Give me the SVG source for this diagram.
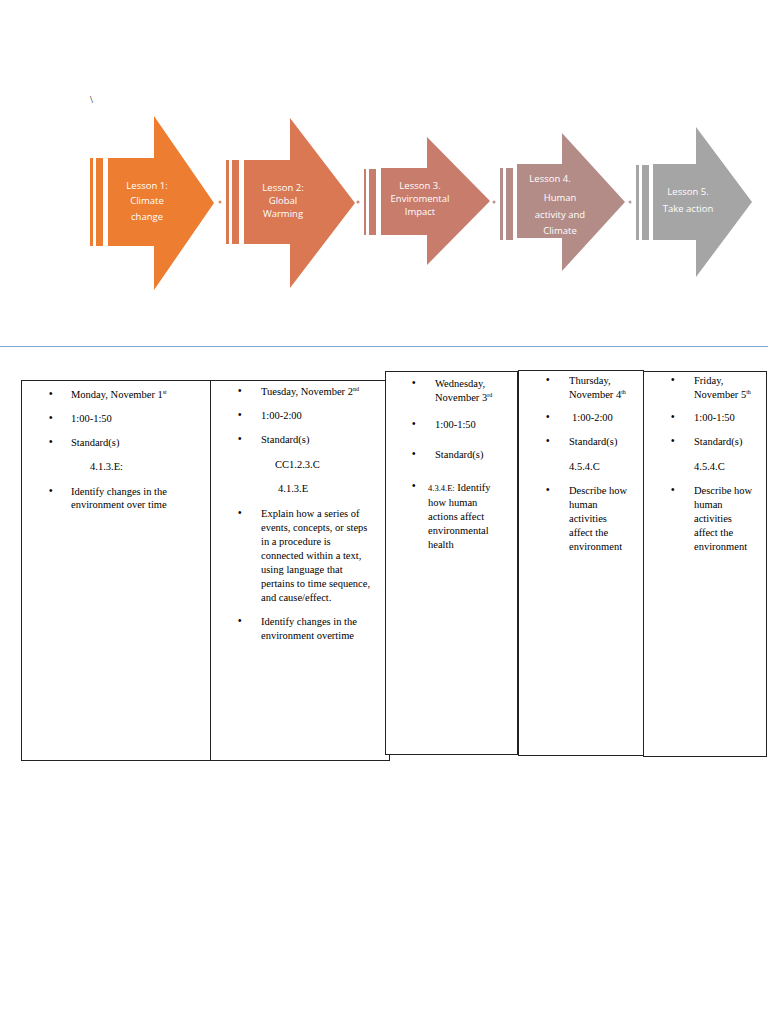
<svg xmlns="http://www.w3.org/2000/svg" width="768" height="1024" viewBox="0 0 768 1024">
<style>
.lt{font-family:"Open Sans","Liberation Sans",sans-serif;font-size:9.5px;fill:#fff;text-anchor:middle}
.t{font-family:"Liberation Serif",serif;font-size:10.5px;fill:#000}
.b{font-family:"Liberation Sans",sans-serif;font-size:10px;fill:#000}
.box{fill:#fff;stroke:#222;stroke-width:1}
sup{font-size:6px}
</style>
<rect width="768" height="1024" fill="#fff"/>
<text x="90" y="103" class="t" font-size="14">\</text>
<g id="connectors" fill="#bbb">
<circle cx="220" cy="202" r="1.5" fill="#E09060"/>
<circle cx="358" cy="202" r="1.5" fill="#D08870"/>
<circle cx="494" cy="202" r="1.5" fill="#C09090"/>
<circle cx="630" cy="202" r="1.5" fill="#B0A0A0"/>
</g>
<g id="lesson1" fill="#ED7D31">
<rect x="90" y="158" width="3" height="88"/><rect x="96" y="158" width="7" height="88"/>
<polygon points="108,158 154,158 154,116 214,203 154,290 154,246 108,246"/>
<text class="lt" x="147" y="189">Lesson 1:</text><text class="lt" x="147" y="204">Climate</text><text class="lt" x="147" y="220">change</text>
</g>
<g id="lesson2" fill="#D97852">
<rect x="226" y="160" width="3" height="84"/><rect x="232" y="160" width="7" height="84"/>
<polygon points="244,160 290,160 290,118 355,203 290,288 290,244 244,244"/>
<text class="lt" x="283" y="191">Lesson 2:</text><text class="lt" x="283" y="204">Global</text><text class="lt" x="283" y="217">Warming</text>
</g>
<g id="lesson3" fill="#C87C6C">
<rect x="364" y="169" width="2" height="66"/><rect x="369" y="169" width="7" height="66"/>
<polygon points="381,168 427,168 427,137 490,201 427,265 427,235 381,235"/>
<text class="lt" x="420" y="189">Lesson 3.</text><text class="lt" x="420" y="202">Enviromental</text><text class="lt" x="420" y="215">Impact</text>
</g>
<g id="lesson4" fill="#B48C87">
<rect x="500" y="168" width="3" height="72"/><rect x="506" y="168" width="7" height="72"/>
<polygon points="517,164 562,164 562,133 625,202 562,271 562,238 517,238"/>
<text class="lt" x="550" y="182">Lesson 4.</text><text class="lt" x="560" y="201" font-size="10.5">Human</text><text class="lt" x="560" y="218" font-size="10.5">activity and</text><text class="lt" x="560" y="234" font-size="10.5">Climate</text>
</g>
<g id="lesson5" fill="#A5A5A5">
<rect x="636" y="165" width="3" height="75"/><rect x="642" y="165" width="7" height="75"/>
<polygon points="653,164 696,164 696,127 752,202 696,277 696,240 653,240"/>
<text class="lt" x="688" y="195">Lesson 5.</text><text class="lt" x="688" y="212">Take action</text>
</g>
<line x1="0" y1="346.5" x2="768" y2="346.5" stroke="#7FA7CF" stroke-width="1"/>
<g id="monday">
<rect class="box" x="21.5" y="380.5" width="189" height="380"/>
<text class="b" x="49" y="397">•</text><text class="t" x="71" y="398">Monday, November 1<tspan font-size="6" dy="-4">st</tspan></text>
<text class="b" x="49" y="421">•</text><text class="t" x="71" y="422">1:00-1:50</text>
<text class="b" x="49" y="445">•</text><text class="t" x="71" y="446">Standard(s)</text>
<text class="t" x="90" y="470">4.1.3.E:</text>
<text class="b" x="49" y="494">•</text><text class="t" x="71" y="495">Identify changes in the</text><text class="t" x="71" y="508">environment over time</text>
</g>
<g id="tuesday">
<rect class="box" x="210.5" y="380.5" width="179" height="380"/>
<text class="b" x="238" y="394">•</text><text class="t" x="261" y="395">Tuesday, November 2<tspan font-size="6" dy="-4">nd</tspan></text>
<text class="b" x="238" y="418">•</text><text class="t" x="261" y="419">1:00-2:00</text>
<text class="b" x="238" y="442">•</text><text class="t" x="261" y="443">Standard(s)</text>
<text class="t" x="275" y="468">CC1.2.3.C</text>
<text class="t" x="278" y="492">4.1.3.E</text>
<text class="b" x="238" y="516">•</text>
<text class="t" x="261" y="517">Explain how a series of</text><text class="t" x="261" y="531">events, concepts, or steps</text><text class="t" x="261" y="545">in a procedure is</text><text class="t" x="261" y="559">connected within a text,</text><text class="t" x="261" y="573">using language that</text><text class="t" x="261" y="587">pertains to time sequence,</text><text class="t" x="261" y="601">and cause/effect.</text>
<text class="b" x="238" y="624">•</text><text class="t" x="261" y="625">Identify changes in the</text><text class="t" x="261" y="639">environment overtime</text>
</g>
<g id="wednesday">
<rect class="box" x="385.5" y="371.5" width="132" height="383"/>
<text class="b" x="412" y="386">•</text><text class="t" x="435" y="387">Wednesday,</text><text class="t" x="435" y="401">November 3<tspan font-size="6" dy="-4">rd</tspan></text>
<text class="b" x="412" y="427">•</text><text class="t" x="435" y="428" font-size="9.5">1:00-1:50</text>
<text class="b" x="412" y="457">•</text><text class="t" x="435" y="458" font-size="9">Standard(s)</text>
<text class="b" x="412" y="489">•</text><text class="t" x="428" y="491"><tspan font-size="8.5">4.3.4.E:</tspan> Identify</text><text class="t" x="428" y="506">how human</text><text class="t" x="428" y="520">actions affect</text><text class="t" x="428" y="534">environmental</text><text class="t" x="428" y="548">health</text>
</g>
<g id="thursday">
<rect class="box" x="518.5" y="370.5" width="125" height="385"/>
<text class="b" x="546" y="383">•</text><text class="t" x="569" y="384">Thursday,</text><text class="t" x="569" y="398">November 4<tspan font-size="6" dy="-4">th</tspan></text>
<text class="b" x="546" y="420">•</text><text class="t" x="572" y="421">1:00-2:00</text>
<text class="b" x="546" y="444">•</text><text class="t" x="569" y="445">Standard(s)</text>
<text class="t" x="569" y="470">4.5.4.C</text>
<text class="b" x="546" y="493">•</text><text class="t" x="569" y="494">Describe how</text><text class="t" x="569" y="508">human</text><text class="t" x="569" y="522">activities</text><text class="t" x="569" y="536">affect the</text><text class="t" x="569" y="550">environment</text>
</g>
<g id="friday">
<rect class="box" x="643.5" y="371.5" width="123" height="385"/>
<text class="b" x="671" y="383">•</text><text class="t" x="694" y="384">Friday,</text><text class="t" x="694" y="398">November 5<tspan font-size="6" dy="-4">th</tspan></text>
<text class="b" x="671" y="420">•</text><text class="t" x="694" y="421">1:00-1:50</text>
<text class="b" x="671" y="444">•</text><text class="t" x="694" y="445">Standard(s)</text>
<text class="t" x="694" y="470">4.5.4.C</text>
<text class="b" x="671" y="493">•</text><text class="t" x="694" y="494">Describe how</text><text class="t" x="694" y="508">human</text><text class="t" x="694" y="522">activities</text><text class="t" x="694" y="536">affect the</text><text class="t" x="694" y="550">environment</text>
</g>
</svg>
